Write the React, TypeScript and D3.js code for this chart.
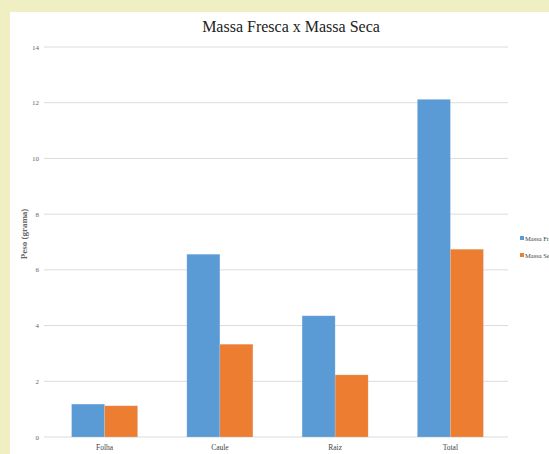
import React from "react";
import * as d3 from "d3";

const categories = ["Folha", "Caule", "Raiz", "Total"];
const seriesNames = ["Massa Fresca", "Massa Seca"];
const massaFresca = [1.18, 6.56, 4.35, 12.12];
const massaSeca = [1.12, 3.33, 2.23, 6.74];
const yTicks = [0, 2, 4, 6, 8, 10, 12, 14];
const colors = ["#5b9bd5", "#ed7d31"];

const W = 549;
const H = 454;

export default function App() {
  const x = d3.scaleBand<string>().domain(categories).range([47, 508]).padding(0);
  const y = d3.scaleLinear().domain([0, 14]).range([437, 47]);
  const barW = 33;
  const series = [massaFresca, massaSeca];
  const font = "'Liberation Serif', 'Times New Roman', serif";

  return (
    <svg
      width={W}
      height={H}
      style={{ position: "absolute", left: 0, top: 0, display: "block" }}
      fontFamily={font}
    >
      <rect x={0} y={0} width={W} height={H} fill="#f0efc4" />
      <rect x={10} y={12} width={W - 10} height={H - 12} fill="#ffffff" />
      <text x={291} y={32} textAnchor="middle" fontSize={16} fill="#222">
        Massa Fresca x Massa Seca
      </text>
      {yTicks.map((t) => (
        <g key={t}>
          <line
            x1={44}
            x2={508}
            y1={y(t)}
            y2={y(t)}
            stroke="#dcdcdc"
            strokeWidth={1}
          />
          <text x={39} y={y(t) + 2.5} textAnchor="end" fontSize={7} fill="#666">
            {t}
          </text>
        </g>
      ))}
      {categories.map((c, i) => {
        const cx = (x(c) as number) + x.bandwidth() / 2;
        return (
          <g key={c}>
            {series.map((s, j) => (
              <rect
                key={j}
                x={cx - barW + j * barW}
                y={y(s[i])}
                width={barW}
                height={y(0) - y(s[i])}
                fill={colors[j]}
                stroke="#cfe0f0"
                strokeOpacity={0.35}
                strokeWidth={0.6}
              />
            ))}
            <text x={cx} y={450} textAnchor="middle" fontSize={7.5} fill="#444">
              {c}
            </text>
          </g>
        );
      })}
      <text
        transform={`translate(27,${(y(0) + y(14)) / 2 - 8}) rotate(-90)`}
        textAnchor="middle"
        fontSize={9}
        fontWeight="bold"
        fill="#666"
      >
        Peso (grama)
      </text>
      {seriesNames.map((n, j) => (
        <g key={n}>
          <rect x={520} y={236 + j * 17} width={4} height={4} fill={colors[j]} />
          <text x={525} y={240.5 + j * 17} fontSize={6.5} fill="#444">
            {n}
          </text>
        </g>
      ))}
    </svg>
  );
}
